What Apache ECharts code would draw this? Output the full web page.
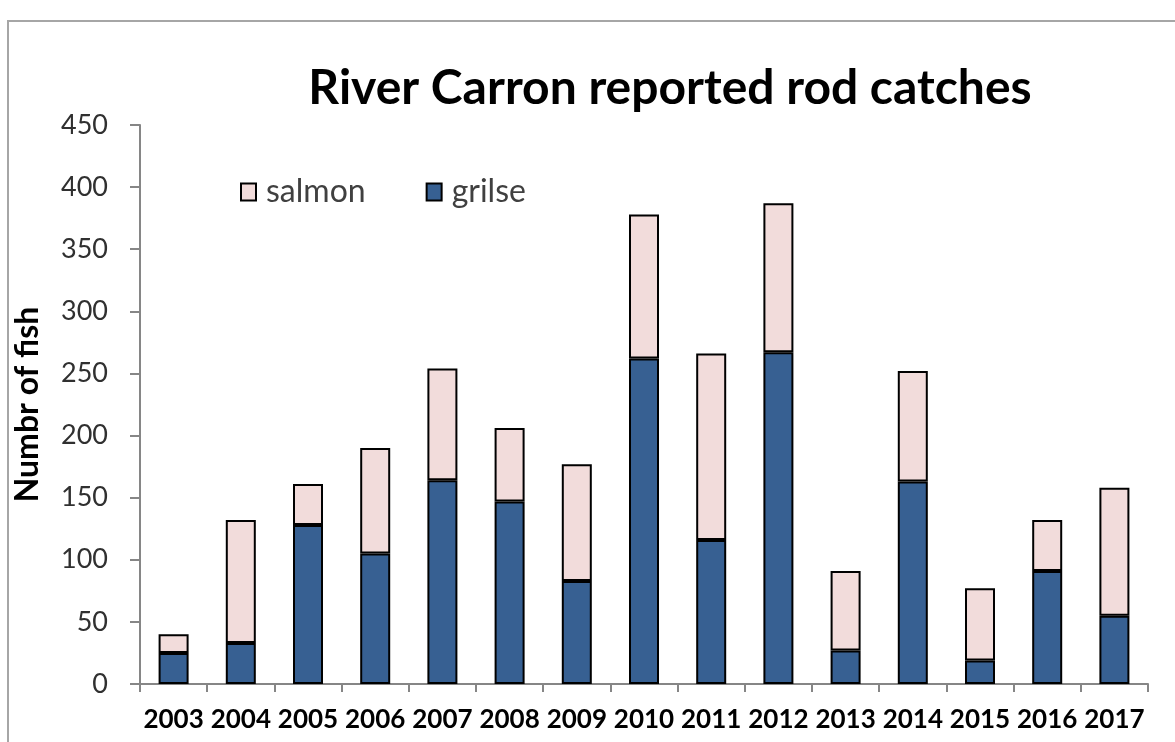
<!DOCTYPE html>
<html>
<head>
<meta charset="utf-8">
<script src="https://cdn.jsdelivr.net/npm/echarts@6/dist/echarts.min.js"></script>
<style>
  html, body { margin: 0; padding: 0; background: #fff; }
  #chart { width: 1175px; height: 742px; }
</style>
</head>
<body>
<div id="chart"></div>
<script>
// Reported rod catches on the River Carron, by year
const years = ['2003','2004','2005','2006','2007','2008','2009','2010','2011','2012','2013','2014','2015','2016','2017'];
const grilse = [25, 33, 128, 105, 164, 147, 83, 262, 116, 267, 27, 163, 19, 91, 55];
const salmon = [15, 99, 33, 85, 90, 59, 94, 116, 150, 120, 64, 89, 58, 41, 103];
const yTicks = [0, 50, 100, 150, 200, 250, 300, 350, 400, 450];

const FONT = 'Lato, "Open Sans", sans-serif';
const chart = echarts.init(document.getElementById('chart'), null, { renderer: 'canvas' });

chart.setOption({
  backgroundColor: '#ffffff',
  animation: false,
  title: {
    text: 'River Carron reported rod catches',
    left: 665,
    top: 60,
    textAlign: 'center',
    textStyle: { fontFamily: FONT, fontWeight: 'bold', fontSize: 48, color: '#000' }
  },
  graphic: [{
    type: 'rect',
    shape: { x: 8, y: 21, width: 1400, height: 1000 },
    style: { fill: 'none', stroke: '#a6a6a6', lineWidth: 2 },
    silent: true
  }],
  legend: {
    left: 235,
    top: 171,
    icon: 'rect',
    itemWidth: 15,
    itemHeight: 17,
    itemGap: 60,
    data: ['salmon', 'grilse'],
    textStyle: { fontFamily: FONT, fontSize: 32, color: '#404040', padding: [0, 0, 0, 5] },
    itemStyle: { borderColor: '#000', borderWidth: 2 }
  },
  grid: { left: 140, right: 27, top: 125, bottom: 58, containLabel: false },
  xAxis: {
    type: 'category',
    data: years,
    boundaryGap: true,
    axisLine: { lineStyle: { color: '#868686', width: 2 } },
    axisTick: { show: true, length: 8, interval: 0, lineStyle: { color: '#868686', width: 2 } },
    axisLabel: { interval: 0, margin: 23, fontFamily: FONT, fontWeight: 'bold', fontSize: 26, color: '#000' }
  },
  yAxis: {
    type: 'value',
    min: yTicks[0],
    max: yTicks[yTicks.length - 1],
    interval: 50,
    name: 'Numbr of fish',
    nameLocation: 'middle',
    nameRotate: 90,
    nameGap: 96,
    nameTextStyle: { fontFamily: FONT, fontWeight: 'bold', fontSize: 32, color: '#000' },
    axisLine: { show: true, lineStyle: { color: '#868686', width: 2 } },
    axisTick: { show: true, length: 10, lineStyle: { color: '#868686', width: 2 } },
    splitLine: { show: false },
    axisLabel: { margin: 32, fontFamily: FONT, fontSize: 27, color: '#303030' }
  },
  series: [
    {
      name: 'grilse',
      type: 'bar',
      stack: 'catch',
      data: grilse,
      barWidth: 30,
      itemStyle: { color: '#376092', borderColor: '#000', borderWidth: 2 }
    },
    {
      name: 'salmon',
      type: 'bar',
      stack: 'catch',
      data: salmon,
      barWidth: 30,
      itemStyle: { color: '#f2dcdb', borderColor: '#000', borderWidth: 2 }
    }
  ]
});
</script>
</body>
</html>
